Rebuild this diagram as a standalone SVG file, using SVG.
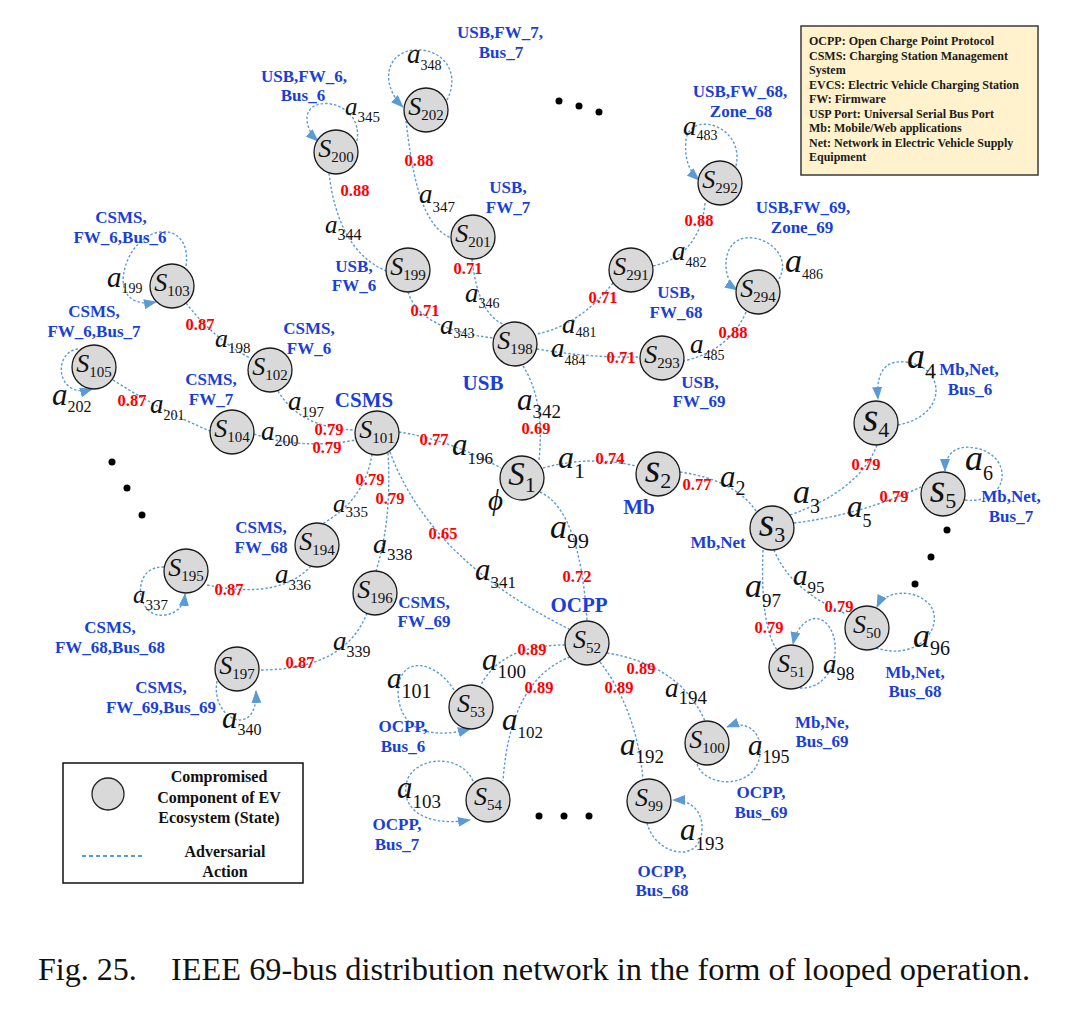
<svg xmlns="http://www.w3.org/2000/svg" width="1072" height="1020" viewBox="0 0 1072 1020">
<defs>
<marker id="ah" markerUnits="userSpaceOnUse" markerWidth="13" markerHeight="10" viewBox="0 0 13 10" refX="12" refY="5" orient="auto">
<path d="M0 0 L13 5 L0 10 z" fill="#5b9bd5"/>
</marker>
<style>
text{font-family:"Liberation Serif","Times New Roman",serif}
.node circle{fill:#d9d9d9;stroke:#1a1a1a;stroke-width:1.3}
.nl{font-size:26px;font-style:italic;text-anchor:middle;fill:#111}
.nl1{font-size:33px;font-style:italic;text-anchor:middle;fill:#111}
.nl2{font-size:40px;font-style:italic;text-anchor:middle;fill:#111}
.ns{font-size:15px;font-style:normal}
.ns1{font-size:22px;font-style:normal}
.e{fill:none;stroke:#5b9bd5;stroke-width:1.4;stroke-dasharray:2.5 2}
.lp{fill:none;stroke:#5b9bd5;stroke-width:1.4;stroke-dasharray:2.5 2;marker-end:url(#ah)}
.ea{font-style:italic;fill:#111}
.sb{font-style:normal}
.pr{font-size:16.5px;font-weight:bold;fill:#ff0000;text-anchor:middle}
.bl{font-size:17px;font-weight:bold;fill:#1840d8;text-anchor:middle}
.bb{font-size:21px;font-weight:bold;fill:#1840d8;text-anchor:middle}
.lg{font-size:12px;font-weight:bold;fill:#1a1a1a}
.lg2{font-size:16px;font-weight:bold;fill:#111;text-anchor:middle}
.cap{font-size:32px;fill:#111}
.dot{fill:#000}
</style>
</defs>
<rect width="1072" height="1020" fill="#fff"/>

<g id="connectors">
<path class="e" d="M329 173 Q338 250 386 271"/>
<path class="e" d="M406 121 C412 170 420 225 451 238"/>
<path class="e" d="M408 292 Q420 330 494 338"/>
<path class="e" d="M472 259 Q478 315 505 325"/>
<path class="e" d="M613 283 Q580 325 537 334"/>
<path class="e" d="M705 203 Q700 255 653 266"/>
<path class="e" d="M537 349 Q590 358 640 357"/>
<path class="e" d="M746 312 Q730 350 684 361"/>
<path class="e" d="M186 303 Q215 340 250 358"/>
<path class="e" d="M278 391 Q300 428 355 430"/>
<path class="e" d="M113 380 Q160 410 210 431"/>
<path class="e" d="M254 434 Q300 450 356 440"/>
<path class="e" d="M399 432 Q450 440 501 468"/>
<path class="e" d="M523 366 Q545 400 539 461"/>
<path class="e" d="M543 468 Q590 455 636 466"/>
<path class="e" d="M680 472 Q735 480 756 511"/>
<path class="e" d="M790 515 Q860 490 877 445"/>
<path class="e" d="M794 523 Q860 515 921 487"/>
<path class="e" d="M774 550 Q790 590 846 614"/>
<path class="e" d="M763 550 Q760 625 777 650"/>
<path class="e" d="M540 492 Q580 510 587 621"/>
<path class="e" d="M372 454 Q365 500 322 524"/>
<path class="e" d="M388 453 Q392 520 376 571"/>
<path class="e" d="M390 452 Q430 560 569 629"/>
<path class="e" d="M311 566 Q280 600 207 585"/>
<path class="e" d="M367 613 Q345 670 259 670"/>
<path class="e" d="M565 645 Q500 645 480 687"/>
<path class="e" d="M570 657 Q510 680 503 781"/>
<path class="e" d="M600 662 Q637 710 643 780"/>
<path class="e" d="M607 653 Q680 665 705 721"/>
<path class="lp" d="M357 141 C364 100 305 92 307 120 Q308 132 318 141"/>
<path class="lp" d="M447 100 C462 70 440 48 415 50 C385 52 380 85 403 107"/>
<path class="lp" d="M186 266 C192 225 150 220 130 255 C115 285 125 308 156 302"/>
<path class="lp" d="M78 349 C52 352 56 400 92 389"/>
<path class="lp" d="M164 567 C130 565 135 620 165 615 C178 613 184 605 185 594"/>
<path class="lp" d="M217 681 C210 720 258 740 256 691"/>
<path class="lp" d="M736 166 C745 125 690 110 686 140 C684 160 690 172 699 180"/>
<path class="lp" d="M777 283 C795 255 765 235 745 238 C720 242 722 280 737 290"/>
<path class="lp" d="M898 425 C950 415 945 365 905 362 C885 360 876 372 878 399"/>
<path class="lp" d="M965 500 C1010 505 1015 455 975 448 C955 444 945 455 945 471"/>
<path class="lp" d="M876 648 C920 662 945 625 930 605 C915 588 885 590 877 607"/>
<path class="lp" d="M800 688 C835 690 845 640 825 622 C812 612 797 625 793 644"/>
<path class="lp" d="M454 690 C435 660 400 655 398 690 C398 730 430 740 470 729"/>
<path class="lp" d="M473 781 C462 755 420 755 408 778 C398 805 420 828 470 820"/>
<path class="lp" d="M647 823 C655 855 700 865 702 830 C703 812 692 800 673 800"/>
<path class="lp" d="M697 764 C705 788 755 790 760 755 C763 730 745 720 727 727"/>
</g>

<g id="nodes">
<g id="S200" class="node"><circle cx="336" cy="152" r="22"/><text class="nl" x="336" y="157">S<tspan class="ns" dy="5">200</tspan></text></g>
<g id="S202" class="node"><circle cx="426" cy="110" r="22"/><text class="nl" x="426" y="115">S<tspan class="ns" dy="5">202</tspan></text></g>
<g id="S201" class="node"><circle cx="473" cy="237" r="22"/><text class="nl" x="473" y="242">S<tspan class="ns" dy="5">201</tspan></text></g>
<g id="S199" class="node"><circle cx="408" cy="270" r="22"/><text class="nl" x="408" y="275">S<tspan class="ns" dy="5">199</tspan></text></g>
<g id="S198" class="node"><circle cx="515" cy="344" r="22"/><text class="nl" x="515" y="349">S<tspan class="ns" dy="5">198</tspan></text></g>
<g id="S291" class="node"><circle cx="631" cy="270" r="22"/><text class="nl" x="631" y="275">S<tspan class="ns" dy="5">291</tspan></text></g>
<g id="S292" class="node"><circle cx="720" cy="183" r="22"/><text class="nl" x="720" y="188">S<tspan class="ns" dy="5">292</tspan></text></g>
<g id="S294" class="node"><circle cx="758" cy="292" r="22"/><text class="nl" x="758" y="297">S<tspan class="ns" dy="5">294</tspan></text></g>
<g id="S293" class="node"><circle cx="662" cy="358" r="22"/><text class="nl" x="662" y="363">S<tspan class="ns" dy="5">293</tspan></text></g>
<g id="S103" class="node"><circle cx="172" cy="286" r="22"/><text class="nl" x="172" y="291">S<tspan class="ns" dy="5">103</tspan></text></g>
<g id="S105" class="node"><circle cx="94" cy="367" r="22"/><text class="nl" x="94" y="372">S<tspan class="ns" dy="5">105</tspan></text></g>
<g id="S102" class="node"><circle cx="270" cy="370" r="22"/><text class="nl" x="270" y="375">S<tspan class="ns" dy="5">102</tspan></text></g>
<g id="S104" class="node"><circle cx="232" cy="432" r="22"/><text class="nl" x="232" y="437">S<tspan class="ns" dy="5">104</tspan></text></g>
<g id="S101" class="node"><circle cx="377" cy="433" r="22"/><text class="nl" x="377" y="438">S<tspan class="ns" dy="5">101</tspan></text></g>
<g id="S1" class="node"><circle cx="522" cy="478" r="22"/><text class="nl1" x="522" y="485">S<tspan class="ns1" dy="7">1</tspan></text></g>
<g id="S2" class="node"><circle cx="658" cy="474" r="22"/><text class="nl2" x="658" y="482">s<tspan class="ns1" dy="6">2</tspan></text></g>
<g id="S3" class="node"><circle cx="772" cy="528" r="22"/><text class="nl2" x="772" y="536">s<tspan class="ns1" dy="6">3</tspan></text></g>
<g id="S4" class="node"><circle cx="876" cy="423" r="22"/><text class="nl2" x="876" y="431">s<tspan class="ns1" dy="6">4</tspan></text></g>
<g id="S5" class="node"><circle cx="943" cy="494" r="22"/><text class="nl2" x="943" y="502">s<tspan class="ns1" dy="6">5</tspan></text></g>
<g id="S50" class="node"><circle cx="867" cy="628" r="22"/><text class="nl" x="867" y="633">S<tspan class="ns" dy="5">50</tspan></text></g>
<g id="S51" class="node"><circle cx="791" cy="667" r="22"/><text class="nl" x="791" y="672">S<tspan class="ns" dy="5">51</tspan></text></g>
<g id="S194" class="node"><circle cx="317" cy="545" r="22"/><text class="nl" x="317" y="550">S<tspan class="ns" dy="5">194</tspan></text></g>
<g id="S195" class="node"><circle cx="186" cy="571" r="22"/><text class="nl" x="186" y="576">S<tspan class="ns" dy="5">195</tspan></text></g>
<g id="S196" class="node"><circle cx="375" cy="593" r="22"/><text class="nl" x="375" y="598">S<tspan class="ns" dy="5">196</tspan></text></g>
<g id="S197" class="node"><circle cx="237" cy="669" r="22"/><text class="nl" x="237" y="674">S<tspan class="ns" dy="5">197</tspan></text></g>
<g id="S52" class="node"><circle cx="587" cy="643" r="22"/><text class="nl" x="587" y="648">S<tspan class="ns" dy="5">52</tspan></text></g>
<g id="S53" class="node"><circle cx="471" cy="707" r="22"/><text class="nl" x="471" y="712">S<tspan class="ns" dy="5">53</tspan></text></g>
<g id="S54" class="node"><circle cx="488" cy="800" r="22"/><text class="nl" x="488" y="805">S<tspan class="ns" dy="5">54</tspan></text></g>
<g id="S99" class="node"><circle cx="649" cy="801" r="22"/><text class="nl" x="649" y="806">S<tspan class="ns" dy="5">99</tspan></text></g>
<g id="S100" class="node"><circle cx="707" cy="743" r="22"/><text class="nl" x="707" y="748">S<tspan class="ns" dy="5">100</tspan></text></g>
</g>

<g id="edge-labels">
<text class="ea" x="345" y="115" font-size="25">a<tspan class="sb" font-size="15" dy="7">345</tspan></text>
<text class="ea" x="407" y="63" font-size="27">a<tspan class="sb" font-size="14" dy="7">348</tspan></text>
<text class="ea" x="325" y="233" font-size="25">a<tspan class="sb" font-size="16" dy="7">344</tspan></text>
<text class="ea" x="419" y="203" font-size="27">a<tspan class="sb" font-size="15" dy="9">347</tspan></text>
<text class="ea" x="440" y="334" font-size="27">a<tspan class="sb" font-size="14" dy="4">343</tspan></text>
<text class="ea" x="465" y="302" font-size="27">a<tspan class="sb" font-size="14" dy="6">346</tspan></text>
<text class="ea" x="562" y="333" font-size="27">a<tspan class="sb" font-size="14" dy="4">481</tspan></text>
<text class="ea" x="672" y="260" font-size="27">a<tspan class="sb" font-size="14" dy="7">482</tspan></text>
<text class="ea" x="683" y="135" font-size="27">a<tspan class="sb" font-size="14" dy="5">483</tspan></text>
<text class="ea" x="551" y="357" font-size="27">a<tspan class="sb" font-size="14" dy="8">484</tspan></text>
<text class="ea" x="690" y="353" font-size="27">a<tspan class="sb" font-size="14" dy="7">485</tspan></text>
<text class="ea" x="785" y="272" font-size="34">a<tspan class="sb" font-size="14" dy="7">486</tspan></text>
<text class="ea" x="107" y="287" font-size="29">a<tspan class="sb" font-size="14" dy="6">199</tspan></text>
<text class="ea" x="215" y="347" font-size="26">a<tspan class="sb" font-size="15" dy="6">198</tspan></text>
<text class="ea" x="288" y="410" font-size="27">a<tspan class="sb" font-size="15" dy="7">197</tspan></text>
<text class="ea" x="52" y="405" font-size="31">a<tspan class="sb" font-size="16" dy="7">202</tspan></text>
<text class="ea" x="150" y="413" font-size="27">a<tspan class="sb" font-size="14" dy="7">201</tspan></text>
<text class="ea" x="261" y="440" font-size="27">a<tspan class="sb" font-size="16" dy="6">200</tspan></text>
<text class="ea" x="452" y="455" font-size="31">a<tspan class="sb" font-size="17" dy="9">196</tspan></text>
<text class="ea" x="558" y="468" font-size="32">a<tspan class="sb" font-size="22" dy="10">1</tspan></text>
<text class="ea" x="550" y="538" font-size="34">a<tspan class="sb" font-size="22" dy="10">99</tspan></text>
<text class="ea" x="517" y="410" font-size="31">a<tspan class="sb" font-size="19" dy="8">342</tspan></text>
<text class="ea" x="373" y="553" font-size="28">a<tspan class="sb" font-size="17" dy="7">338</tspan></text>
<text class="ea" x="475" y="580" font-size="31">a<tspan class="sb" font-size="17" dy="8">341</tspan></text>
<text class="ea" x="333" y="512" font-size="25">a<tspan class="sb" font-size="15" dy="5">335</tspan></text>
<text class="ea" x="275" y="583" font-size="27">a<tspan class="sb" font-size="15" dy="7">336</tspan></text>
<text class="ea" x="133" y="603" font-size="25">a<tspan class="sb" font-size="15" dy="7">337</tspan></text>
<text class="ea" x="333" y="650" font-size="27">a<tspan class="sb" font-size="16" dy="7">339</tspan></text>
<text class="ea" x="222" y="728" font-size="31">a<tspan class="sb" font-size="16" dy="7">340</tspan></text>
<text class="ea" x="482" y="670" font-size="31">a<tspan class="sb" font-size="19" dy="8">100</tspan></text>
<text class="ea" x="387" y="688" font-size="29">a<tspan class="sb" font-size="20" dy="10">101</tspan></text>
<text class="ea" x="502" y="730" font-size="31">a<tspan class="sb" font-size="17" dy="8">102</tspan></text>
<text class="ea" x="397" y="798" font-size="31">a<tspan class="sb" font-size="19" dy="10">103</tspan></text>
<text class="ea" x="620" y="755" font-size="31">a<tspan class="sb" font-size="19" dy="8">192</tspan></text>
<text class="ea" x="680" y="840" font-size="31">a<tspan class="sb" font-size="19" dy="10">193</tspan></text>
<text class="ea" x="665" y="697" font-size="27">a<tspan class="sb" font-size="19" dy="7">194</tspan></text>
<text class="ea" x="748" y="755" font-size="29">a<tspan class="sb" font-size="18" dy="8">195</tspan></text>
<text class="ea" x="823" y="673" font-size="27">a<tspan class="sb" font-size="18" dy="7">98</tspan></text>
<text class="ea" x="913" y="647" font-size="34">a<tspan class="sb" font-size="20" dy="8">96</tspan></text>
<text class="ea" x="745" y="597" font-size="34">a<tspan class="sb" font-size="19" dy="10">97</tspan></text>
<text class="ea" x="793" y="585" font-size="29">a<tspan class="sb" font-size="17" dy="8">95</tspan></text>
<text class="ea" x="720" y="487" font-size="31">a<tspan class="sb" font-size="20" dy="8">2</tspan></text>
<text class="ea" x="793" y="503" font-size="34">a<tspan class="sb" font-size="20" dy="10">3</tspan></text>
<text class="ea" x="847" y="517" font-size="31">a<tspan class="sb" font-size="18" dy="10">5</tspan></text>
<text class="ea" x="907" y="368" font-size="36">a<tspan class="sb" font-size="22" dy="10">4</tspan></text>
<text class="ea" x="965" y="470" font-size="36">a<tspan class="sb" font-size="20" dy="10">6</tspan></text>
<text class="ea" x="488" y="510" font-size="29">ϕ</text>
</g>

<g id="probabilities">
<text class="pr" x="355" y="196">0.88</text>
<text class="pr" x="419" y="166">0.88</text>
<text class="pr" x="468" y="274">0.71</text>
<text class="pr" x="425" y="316">0.71</text>
<text class="pr" x="603" y="303">0.71</text>
<text class="pr" x="699" y="226">0.88</text>
<text class="pr" x="733" y="338">0.88</text>
<text class="pr" x="621" y="363">0.71</text>
<text class="pr" x="200" y="330">0.87</text>
<text class="pr" x="132" y="406">0.87</text>
<text class="pr" x="329" y="435">0.79</text>
<text class="pr" x="327" y="453">0.79</text>
<text class="pr" x="434" y="445">0.77</text>
<text class="pr" x="536" y="434">0.69</text>
<text class="pr" x="610" y="464">0.74</text>
<text class="pr" x="697" y="490">0.77</text>
<text class="pr" x="866" y="470">0.79</text>
<text class="pr" x="894" y="502">0.79</text>
<text class="pr" x="839" y="612">0.79</text>
<text class="pr" x="769" y="633">0.79</text>
<text class="pr" x="370" y="485">0.79</text>
<text class="pr" x="390" y="504">0.79</text>
<text class="pr" x="443" y="539">0.65</text>
<text class="pr" x="577" y="582">0.72</text>
<text class="pr" x="229" y="595">0.87</text>
<text class="pr" x="300" y="668">0.87</text>
<text class="pr" x="532" y="655">0.89</text>
<text class="pr" x="539" y="693">0.89</text>
<text class="pr" x="619" y="693">0.89</text>
<text class="pr" x="641" y="674">0.89</text>
</g>

<g id="component-labels">
<text class="bl" x="304" y="82">USB,FW_6,</text><text class="bl" x="303" y="101">Bus_6</text>
<text class="bl" x="500" y="38">USB,FW_7,</text><text class="bl" x="501" y="58">Bus_7</text>
<text class="bl" x="508" y="193">USB,</text><text class="bl" x="508" y="213">FW_7</text>
<text class="bl" x="354" y="272">USB,</text><text class="bl" x="354" y="291">FW_6</text>
<text class="bl" x="740" y="97">USB,FW_68,</text><text class="bl" x="741" y="117">Zone_68</text>
<text class="bl" x="676" y="298">USB,</text><text class="bl" x="676" y="318">FW_68</text>
<text class="bl" x="803" y="213">USB,FW_69,</text><text class="bl" x="802" y="233">Zone_69</text>
<text class="bl" x="700" y="388">USB,</text><text class="bl" x="699" y="407">FW_69</text>
<text class="bb" x="483" y="390">USB</text>
<text class="bb" x="364" y="407">CSMS</text>
<text class="bb" x="639" y="514">Mb</text>
<text class="bb" x="579" y="612">OCPP</text>
<text class="bl" x="121" y="223">CSMS,</text><text class="bl" x="120" y="243">FW_6,Bus_6</text>
<text class="bl" x="94" y="317">CSMS,</text><text class="bl" x="94" y="337">FW_6,Bus_7</text>
<text class="bl" x="309" y="334">CSMS,</text><text class="bl" x="309" y="354">FW_6</text>
<text class="bl" x="211" y="385">CSMS,</text><text class="bl" x="211" y="405">FW_7</text>
<text class="bl" x="261" y="533">CSMS,</text><text class="bl" x="261" y="553">FW_68</text>
<text class="bl" x="110" y="633">CSMS,</text><text class="bl" x="110" y="653">FW_68,Bus_68</text>
<text class="bl" x="424" y="608">CSMS,</text><text class="bl" x="424" y="627">FW_69</text>
<text class="bl" x="161" y="693">CSMS,</text><text class="bl" x="161" y="713">FW_69,Bus_69</text>
<text class="bl" x="403" y="732">OCPP,</text><text class="bl" x="403" y="752">Bus_6</text>
<text class="bl" x="397" y="830">OCPP,</text><text class="bl" x="397" y="850">Bus_7</text>
<text class="bl" x="662" y="877">OCPP,</text><text class="bl" x="662" y="896">Bus_68</text>
<text class="bl" x="761" y="798">OCPP,</text><text class="bl" x="761" y="818">Bus_69</text>
<text class="bl" x="822" y="728">Mb,Ne,</text><text class="bl" x="822" y="747">Bus_69</text>
<text class="bl" x="915" y="678">Mb,Net,</text><text class="bl" x="915" y="697">Bus_68</text>
<text class="bl" x="718" y="548">Mb,Net</text>
<text class="bl" x="969" y="375">Mb,Net,</text><text class="bl" x="970" y="395">Bus_6</text>
<text class="bl" x="1011" y="502">Mb,Net,</text><text class="bl" x="1011" y="522">Bus_7</text>
</g>

<g id="ellipses">
<circle class="dot" cx="559" cy="101" r="3.5"/><circle class="dot" cx="579" cy="106" r="3.5"/><circle class="dot" cx="599" cy="112" r="3.5"/>
<circle class="dot" cx="112" cy="462" r="3.5"/><circle class="dot" cx="127" cy="488" r="3.5"/><circle class="dot" cx="142" cy="515" r="3.5"/>
<circle class="dot" cx="947" cy="530" r="3.5"/><circle class="dot" cx="931" cy="557" r="3.5"/><circle class="dot" cx="915" cy="584" r="3.5"/>
<circle class="dot" cx="539" cy="816" r="3.5"/><circle class="dot" cx="564" cy="816" r="3.5"/><circle class="dot" cx="589" cy="816" r="3.5"/>
</g>

<g id="abbreviations">
<rect x="801" y="26" width="237" height="149" fill="#fff2cc" stroke="#3a3a3a" stroke-width="1.5"/>
<text class="lg" x="809" y="45">OCPP: Open Charge Point Protocol</text>
<text class="lg" x="809" y="59.5">CSMS: Charging Station Management</text>
<text class="lg" x="809" y="74">System</text>
<text class="lg" x="809" y="88.5">EVCS: Electric Vehicle Charging Station</text>
<text class="lg" x="809" y="103">FW: Firmware</text>
<text class="lg" x="809" y="117.5">USP Port: Universal Serial Bus Port</text>
<text class="lg" x="809" y="132">Mb: Mobile/Web applications</text>
<text class="lg" x="809" y="146.5">Net: Network in Electric Vehicle Supply</text>
<text class="lg" x="809" y="161">Equipment</text>
</g>

<g id="legend">
<rect x="63" y="763" width="240" height="120" fill="#fff" stroke="#111" stroke-width="1.5"/>
<circle cx="108" cy="794" r="16" fill="#d9d9d9" stroke="#222" stroke-width="1.3"/>
<line x1="82" y1="856" x2="144" y2="856" stroke="#5b9bd5" stroke-width="2" stroke-dasharray="4 3"/>
<text class="lg2" x="219" y="782">Compromised</text>
<text class="lg2" x="219" y="803">Component of EV</text>
<text class="lg2" x="219" y="823">Ecosystem (State)</text>
<text class="lg2" x="225" y="857">Adversarial</text>
<text class="lg2" x="225" y="877">Action</text>
</g>

<text class="cap" x="38" y="980">Fig. 25.</text>
<text class="cap" x="171" y="980" textLength="859" lengthAdjust="spacingAndGlyphs">IEEE 69-bus distribution network in the form of looped operation.</text>
</svg>
